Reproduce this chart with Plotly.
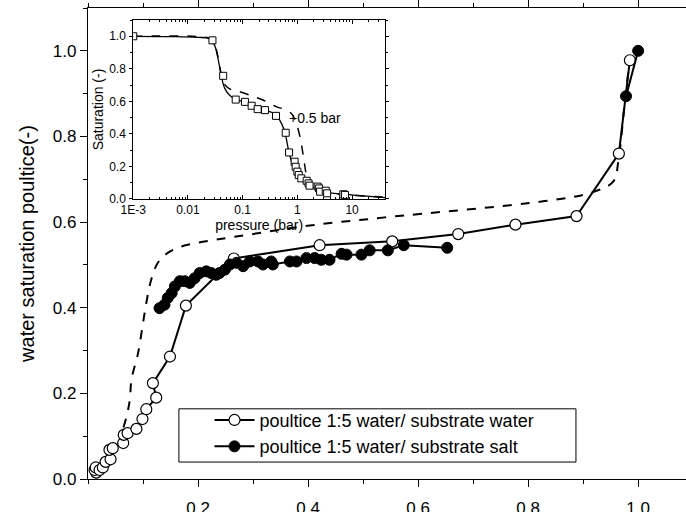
import numpy as np
import plotly.graph_objects as go

# main chart: poultice saturation vs substrate saturation
water_x = [0.015, 0.012, 0.014, 0.021, 0.027, 0.032, 0.041, 0.039, 0.045, 0.064, 0.065, 0.072,
           0.088, 0.099, 0.106, 0.124, 0.118, 0.149, 0.178, 0.265, 0.421, 0.553, 0.673, 0.777,
           0.888, 0.965, 0.985]
water_y = [0.015, 0.021, 0.027, 0.021, 0.027, 0.040, 0.046, 0.068, 0.072, 0.084, 0.103, 0.107,
           0.117, 0.140, 0.163, 0.190, 0.224, 0.286, 0.405, 0.515, 0.546, 0.555, 0.572, 0.594,
           0.614, 0.760, 0.978]

salt_x = [0.130, 0.139, 0.145, 0.152, 0.158, 0.167, 0.176, 0.185, 0.194, 0.203, 0.215, 0.224,
          0.233, 0.239, 0.249, 0.258, 0.270, 0.282, 0.294, 0.309, 0.318, 0.333, 0.336, 0.367,
          0.379, 0.397, 0.412, 0.424, 0.439, 0.461, 0.470, 0.497, 0.512, 0.545, 0.574, 0.653,
          None, 0.978, 1.000]
salt_y = [0.399, 0.407, 0.423, 0.434, 0.450, 0.462, 0.462, 0.458, 0.469, 0.481, 0.485, 0.481,
          0.477, 0.481, 0.489, 0.501, 0.505, 0.497, 0.508, 0.508, 0.501, 0.508, 0.501, 0.508,
          0.508, 0.516, 0.516, 0.512, 0.512, 0.526, 0.524, 0.524, 0.534, 0.534, 0.546, 0.540,
          None, 0.894, 1.000]

model_x = [0.055, 0.070, 0.076, 0.079, 0.091, 0.100, 0.106, 0.115, 0.127, 0.145, 0.170, 0.197,
           0.233, 0.294, 0.403, 0.540, 0.830, 0.918, 0.955, 0.964, 0.975, 0.985]
model_y = [0.080, 0.146, 0.185, 0.232, 0.294, 0.364, 0.411, 0.466, 0.505, 0.528, 0.543, 0.551,
           0.559, 0.571, 0.592, 0.611, 0.649, 0.670, 0.695, 0.742, 0.870, 0.985]

# inset: retention curve
inset_p = [0.001, 0.028, 0.044, 0.0745, 0.110, 0.146, 0.188, 0.256, 0.407, 0.612, 0.705, 0.89,
           0.93, 1.0, 1.06, 1.18, 1.48, 1.6, 1.67, 2.35, 2.5, 2.6, 3.3, 3.5, 6.9, 7.4]
inset_s = [1.0, 0.975, 0.757, 0.611, 0.597, 0.573, 0.552, 0.546, 0.511, 0.407, 0.286, 0.229,
           0.198, 0.168, 0.147, 0.127, 0.112, 0.096, 0.082, 0.076, 0.065, 0.045, 0.051, 0.035,
           0.029, 0.025]
fit_p = [0.001, 0.005, 0.015, 0.025, 0.031, 0.036, 0.041, 0.047, 0.059, 0.078, 0.11, 0.15, 0.19,
         0.26, 0.35, 0.42, 0.52, 0.6, 0.7, 0.84, 1.05, 1.3, 1.7, 3.0, 8.0, 40.0]
fit_s = [1.0, 0.998, 0.993, 0.985, 0.94, 0.85, 0.75, 0.68, 0.635, 0.61, 0.595, 0.575, 0.555,
         0.545, 0.53, 0.51, 0.46, 0.40, 0.29, 0.20, 0.14, 0.11, 0.08, 0.045, 0.028, 0.008]
shift_p = [0.001, 0.02, 0.028, 0.035, 0.041, 0.048, 0.059, 0.078, 0.136, 0.24, 0.42, 0.64, 0.8,
           0.91, 1.12, 1.29, 1.48, 1.83, 3.0, 8.0, 40.0]
shift_s = [1.0, 0.995, 0.98, 0.88, 0.76, 0.70, 0.675, 0.665, 0.638, 0.607, 0.566, 0.546, 0.52,
           0.485, 0.38, 0.26, 0.14, 0.06, 0.04, 0.025, 0.012]

# minor tick positions for the log inset axis (2..9 in each decade)
log_minor = [m * 10.0 ** e for e in range(-3, 2) for m in range(2, 10)]

FONT = "Arial, Liberation Sans, sans-serif"

fig = go.Figure()

fig.add_trace(go.Scatter(x=model_x, y=model_y, mode='lines', showlegend=False,
                         line=dict(color='black', width=2, dash='dash', shape='spline')))
fig.add_trace(go.Scatter(x=water_x, y=water_y, mode='lines+markers',
                         name='poultice 1:5 water/ substrate water',
                         line=dict(color='black', width=2),
                         marker=dict(symbol='circle', size=11, color='white',
                                     line=dict(color='black', width=1.2))))
fig.add_trace(go.Scatter(x=salt_x, y=salt_y, mode='lines+markers',
                         name='poultice 1:5 water/ substrate salt',
                         line=dict(color='black', width=2),
                         marker=dict(symbol='circle', size=11, color='black',
                                     line=dict(color='black', width=1))))

# inset traces
fig.add_trace(go.Scatter(x=shift_p, y=shift_s, mode='lines', xaxis='x2', yaxis='y2',
                         showlegend=False,
                         line=dict(color='black', width=1.5, dash='dash', shape='spline')))
fig.add_trace(go.Scatter(x=fit_p, y=fit_s, mode='lines', xaxis='x2', yaxis='y2',
                         showlegend=False,
                         line=dict(color='black', width=1.3, shape='spline')))
fig.add_trace(go.Scatter(x=inset_p, y=inset_s, mode='markers', xaxis='x2', yaxis='y2',
                         showlegend=False,
                         marker=dict(symbol='square', size=7, color='white',
                                     line=dict(color='black', width=1))))

fig.update_layout(
    width=686, height=512,
    margin=dict(l=88, r=0, t=8, b=33),
    paper_bgcolor='white', plot_bgcolor='white',
    font=dict(family=FONT, color='black'),
    xaxis=dict(range=[0, 1.087], tickvals=[0.2, 0.4, 0.6, 0.8, 1.0], tickformat='.1f',
               automargin=False,
               showline=True, linecolor='black', linewidth=1.2, mirror='ticks',
               ticks='outside', ticklen=7, tickcolor='black', showgrid=False, zeroline=False,
               minor=dict(dtick=0.1, tick0=0, ticks='outside', ticklen=4, tickcolor='black'),
               tickfont=dict(size=17), ticklabelstandoff=6),
    yaxis=dict(range=[0, 1.1], dtick=0.2, tickformat='.1f', automargin=False,
               showline=True, linecolor='black', linewidth=1.2,
               ticks='outside', ticklen=7, tickcolor='black', showgrid=False, zeroline=False,
               minor=dict(dtick=0.1, tick0=0, ticks='outside', ticklen=4, tickcolor='black'),
               tickfont=dict(size=17),
               title=dict(text='water saturation poultice(-)', font=dict(size=20), standoff=12)),
    xaxis2=dict(type='log', range=[-3, np.log10(40)], domain=[0.0757, 0.4967], anchor='y2',
                tickvals=[0.001, 0.01, 0.1, 1, 10], ticktext=['1E-3', '0.01', '0.1', '1', '10'],
                automargin=True,
                showline=True, linecolor='black', linewidth=1, mirror='ticks',
                ticks='inside', ticklen=4, tickwidth=0.8, tickcolor='black',
                showgrid=False, zeroline=False,
                minor=dict(tickvals=log_minor, ticks='inside', ticklen=2, tickwidth=0.6,
                           tickcolor='black', showgrid=False),
                tickfont=dict(size=12), ticklabelstandoff=0,
                title=dict(text='pressure (bar)', font=dict(size=14), standoff=0)),
    yaxis2=dict(range=[0, 1.1], domain=[0.5945, 0.9745], anchor='x2', dtick=0.2, tickformat='.1f',
                automargin=True,
                showline=True, linecolor='black', linewidth=1, mirror='ticks',
                ticks='outside', ticklen=3, tickwidth=0.8, tickcolor='black',
                showgrid=False, zeroline=False,
                minor=dict(dtick=0.1, ticks='outside', ticklen=2, tickcolor='black'),
                tickfont=dict(size=12), ticklabelstandoff=1,
                title=dict(text='Saturation (-)', font=dict(size=14), standoff=2)),
    legend=dict(x=0.153, y=0.164, xanchor='left', yanchor='top',
                bgcolor='rgba(0,0,0,0)', borderwidth=0,
                font=dict(size=18), itemwidth=40, tracegroupgap=0, indentation=30),
    # legend frame, drawn wider than plotly's automatic box like the original
    shapes=[dict(type='rect', xref='paper', yref='paper', x0=0.152, x1=0.816, y0=0.036, y1=0.149,
                 line=dict(color='black', width=1), fillcolor='white', layer='above')],
    annotations=[dict(text='+0.5 bar', x=-0.19, y=0.5, xref='x2', yref='y2',
                      xanchor='left', yanchor='middle', showarrow=False,
                      font=dict(size=14, color='black'))],
)

fig.write_html("out.html", config={'displayModeBar': False},
               post_script="document.body.style.margin='0';")
